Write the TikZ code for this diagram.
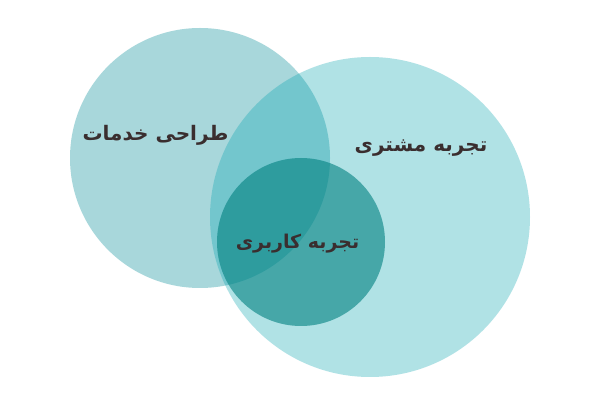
\documentclass[tikz,border=0pt]{standalone}
\usepackage{fontspec}
\newfontfamily\arabicfont[Script=Arabic]{DejaVu Sans}
\TeXXeTstate=1
\definecolor{lefttc}{RGB}{0,140,152}
\definecolor{righttc}{RGB}{0,162,174}
\definecolor{smalltc}{RGB}{0,128,128}
\definecolor{txt}{RGB}{58,46,47}
\begin{document}
\begin{tikzpicture}[x=1pt,y=-1pt,
  lbl/.style={text=txt,font=\arabicfont\bfseries\fontsize{20}{24}\selectfont,inner sep=0pt}]
\useasboundingbox (0,0) rectangle (600,403);
\fill[white] (0,0) rectangle (600,403);
\fill[lefttc,opacity=0.34] (200,158) circle[radius=130];
\fill[righttc,opacity=0.31] (370,217) circle[radius=160];
\fill[smalltc,opacity=0.6] (301,242) circle[radius=84];
\node[lbl] (service) at (155.5,135) {\beginR طراحی خدمات\endR};
\node[lbl] (customer) at (421,148) {\beginR تجربه مشتری\endR};
\node[lbl,font=\arabicfont\bfseries\fontsize{19}{22}\selectfont] (user) at (297.5,244) {\beginR تجربه کاربری\endR};
\end{tikzpicture}
\end{document}
